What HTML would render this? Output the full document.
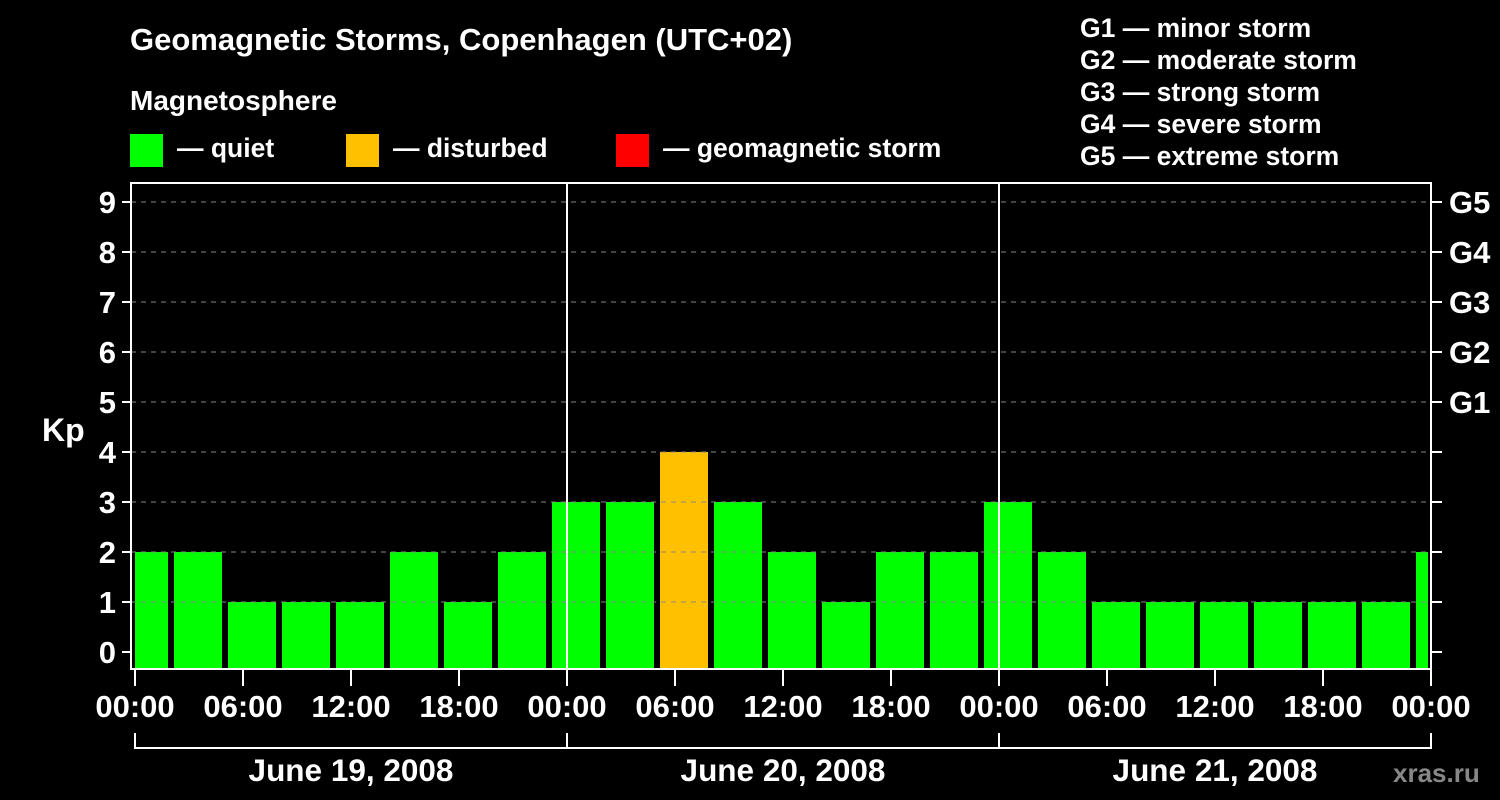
<!DOCTYPE html>
<html><head><meta charset="utf-8"><style>
body{margin:0;background:#000;}
svg{display:block;font-family:"Liberation Sans",sans-serif;font-weight:bold;}
</style></head><body>
<svg width="1500" height="800" viewBox="0 0 1500 800">
<rect width="1500" height="800" fill="#000"/>
<g id="bars"></g>
<g id="axes"></g>
<g fill="#fff" font-size="26.5">
<text x="130" y="50" font-size="31">Geomagnetic Storms, Copenhagen (UTC+02)</text>
<text x="130" y="110" font-size="28">Magnetosphere</text>
<rect x="130" y="134" width="33" height="33" fill="#00ff00"/>
<text x="177" y="157">— quiet</text>
<rect x="346" y="134" width="33" height="33" fill="#ffc000"/>
<text x="393" y="157">— disturbed</text>
<rect x="616" y="134" width="33" height="33" fill="#ff0000"/>
<text x="663" y="157">— geomagnetic storm</text>
<text x="1080" y="37">G1 — minor storm</text>
<text x="1080" y="69">G2 — moderate storm</text>
<text x="1080" y="101">G3 — strong storm</text>
<text x="1080" y="133">G4 — severe storm</text>
<text x="1080" y="165">G5 — extreme storm</text>
<text x="42" y="441" font-size="32">Kp</text>
<text x="1393" y="782" fill="#888" font-size="26">xras.ru</text>
</g>
</svg>
<script>
const values=[2,2,1,1,1,2,1,2,3,3,4,3,2,1,2,2,3,2,1,1,1,1,1,1,2];
const yTicks=[0,1,2,3,4,5,6,7,8,9];
const gLabels=["G1","G2","G3","G4","G5"];
const gLevels=[5,6,7,8,9];
const xTickLabels=["00:00","06:00","12:00","18:00","00:00","06:00","12:00","18:00","00:00","06:00","12:00","18:00","00:00"];
const dayLabels=["June 19, 2008","June 20, 2008","June 21, 2008"];
const NS="http://www.w3.org/2000/svg";
const L=131,R=1431,T=183,B=669,X0=135,HOUR=18;
const y=v=>652-50*v;
const xh=h=>X0+h*HOUR;
function mk(tag,at,parent){const e=document.createElementNS(NS,tag);for(const k in at)e.setAttribute(k,at[k]);parent.appendChild(e);return e;}
const bars=document.getElementById('bars'),axes=document.getElementById('axes');
values.forEach((v,i)=>{
 let x1=Math.max(xh(i*3)-15,L+4),x2=Math.min(xh(i*3)+33,R-3);
 const color=v>=5?'#ff0000':(v>=4?'#ffc000':'#00ff00');
 const r=mk('rect',{x:x1,y:y(v),width:x2-x1,height:B-y(v),fill:color},bars);
 
 
});
yTicks.forEach(t=>{
 if(t>0){const g=mk('line',{x1:L,x2:R,y1:y(t),y2:y(t),stroke:'#888','stroke-width':1,'stroke-dasharray':'5,5'},axes);
 }
 mk('line',{x1:122,x2:L,y1:y(t),y2:y(t),stroke:'#fff','stroke-width':2},axes);
 mk('line',{x1:R,x2:1442,y1:y(t),y2:y(t),stroke:'#fff','stroke-width':2},axes);
 const tx=mk('text',{x:116,y:y(t)+11,fill:'#fff','font-size':31,'text-anchor':'end'},axes);tx.textContent=t;
 
});
gLabels.forEach((g,i)=>{const tx=mk('text',{x:1449,y:y(gLevels[i])+11,fill:'#fff','font-size':31},axes);tx.textContent=g;
 });
mk('rect',{x:L,y:T,width:R-L,height:B-T,fill:'none',stroke:'#fff','stroke-width':2},axes);
[1,2].forEach(d=>mk('line',{x1:xh(24*d),x2:xh(24*d),y1:T,y2:B,stroke:'#fff','stroke-width':2},axes));
xTickLabels.forEach((lab,i)=>{const x=xh(i*6);
 mk('line',{x1:x,x2:x,y1:B,y2:686,stroke:'#fff','stroke-width':2},axes);
 const tx=mk('text',{x:x,y:717,fill:'#fff','font-size':31,'text-anchor':'middle'},axes);tx.textContent=lab;
 });
mk('line',{x1:xh(0),x2:xh(72),y1:748,y2:748,stroke:'#fff','stroke-width':2},axes);
[0,1,2,3].forEach(d=>mk('line',{x1:xh(24*d),x2:xh(24*d),y1:733,y2:749,stroke:'#fff','stroke-width':2},axes));
dayLabels.forEach((d,i)=>{const tx=mk('text',{x:xh(24*i+12),y:781,fill:'#fff','font-size':31.5,'text-anchor':'middle'},axes);tx.textContent=d;
 });
</script>
</body></html>
